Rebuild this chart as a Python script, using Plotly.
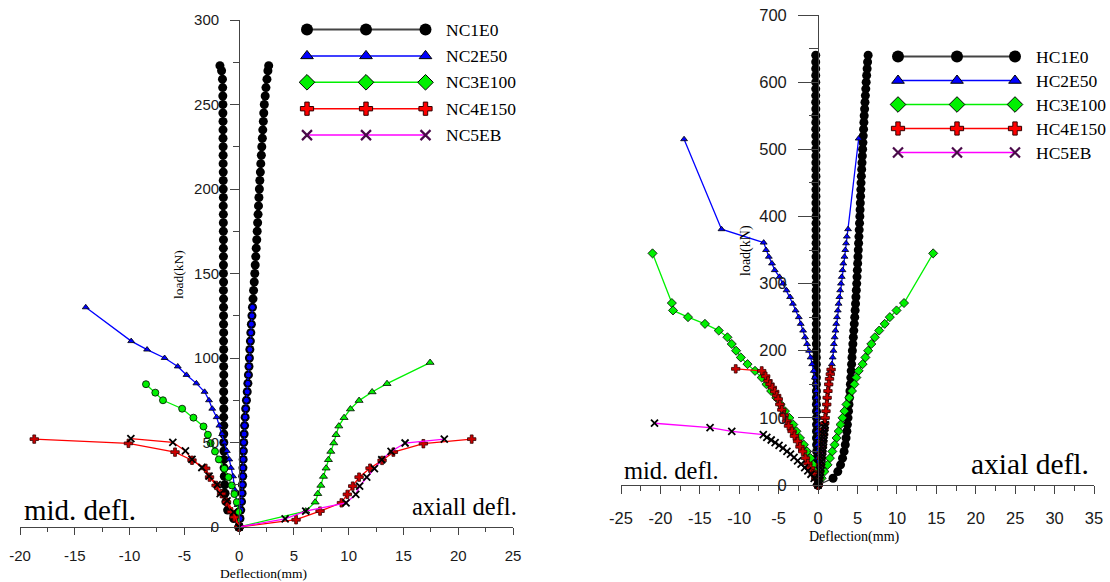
import plotly.graph_objects as go

# ------------------------------------------------------------------
# Left panel: NC specimens  (load in kN vs deflection in mm)
# "MID" = mid-height (lateral) deflection, "AX" = axial deflection
# ------------------------------------------------------------------
NC1E0_LOAD = [0, 5, 10, 15, 20, 25, 30, 35, 40, 45, 50, 55, 60, 65, 70, 75, 80, 85, 90, 95,
              100, 105, 110, 115, 120, 125, 130, 135, 140, 145, 150, 155, 160, 165, 170, 175,
              180, 185, 190, 195, 200, 205, 210, 215, 220, 225, 230, 235, 240, 245, 250, 255,
              260, 265, 270, 273]
NC1E0_MID = [0, -0.5, -1.05, -1.2, -1.28, -1.32, -1.35, -1.37, -1.38, -1.39, -1.4, -1.4, -1.4,
             -1.41, -1.4, -1.4, -1.41, -1.41, -1.4, -1.41, -1.41, -1.41, -1.42, -1.41, -1.42,
             -1.42, -1.42, -1.42, -1.43, -1.42, -1.43, -1.43, -1.43, -1.44, -1.43, -1.44, -1.44,
             -1.44, -1.45, -1.44, -1.45, -1.45, -1.45, -1.46, -1.46, -1.46, -1.47, -1.47, -1.47,
             -1.48, -1.48, -1.49, -1.5, -1.52, -1.6, -1.75]
NC1E0_AX = [0, 0.08, 0.15, 0.22, 0.27, 0.3, 0.33, 0.35, 0.37, 0.39, 0.42, 0.46, 0.5, 0.55, 0.6,
            0.67, 0.74, 0.8, 0.85, 0.9, 0.94, 0.98, 1.03, 1.07, 1.12, 1.17, 1.22, 1.27, 1.32,
            1.38, 1.43, 1.47, 1.52, 1.56, 1.61, 1.65, 1.69, 1.73, 1.77, 1.81, 1.85, 1.89, 1.94,
            1.98, 2.03, 2.07, 2.12, 2.16, 2.21, 2.25, 2.3, 2.38, 2.45, 2.54, 2.63, 2.7]

NC2E50_MID = [-14.0, -9.85, -8.4, -6.8, -5.6, -4.8, -3.9, -3.15, -2.75, -2.45, -2.05, -1.8,
              -1.55, -1.35, -1.12, -0.9, -0.75, -0.55, -0.4, -0.15, -0.05, 0]
NC2E50_MID_LOAD = [130, 110, 105, 100, 95, 90, 85, 80, 75, 70, 65, 60, 55, 50, 45, 40, 35, 30,
                   22, 13, 5, 0]
NC2E50_AX = [0, 0.08, 0.15, 0.22, 0.27, 0.3, 0.33, 0.35, 0.37, 0.39, 0.42, 0.46, 0.5, 0.55,
             0.6, 0.67, 0.74, 0.8, 0.85, 0.9, 0.94, 0.98, 1.03, 1.07, 1.12, 1.17, 1.22]
NC2E50_AX_LOAD = [0, 5, 10, 15, 20, 25, 30, 35, 40, 45, 50, 55, 60, 65, 70, 75, 80, 85, 90, 95,
                  100, 105, 110, 115, 120, 125, 130]

NC3E100_MID = [-8.5, -7.65, -6.95, -5.2, -4.17, -3.25, -2.85, -2.6, -2.2, -1.85, -1.35, -0.97,
               -0.67, -0.43, -0.21, -0.06, 0]
NC3E100_MID_LOAD = [84.5, 79.5, 75, 70, 64.7, 59.5, 54.6, 49.6, 44.7, 40, 34.5, 29.5, 24.6,
                    19.5, 14.7, 9, 0]
NC3E100_AX = [17.43, 13.5, 12.14, 10.95, 10.16, 9.58, 9.1, 8.85, 8.64, 8.37, 8.15, 7.94, 7.7,
              7.46, 7.18, 6.94, 6.08, 0]
NC3E100_AX_LOAD = [97.3, 84.8, 79.9, 74.8, 69.8, 64.7, 59.7, 54.6, 49.7, 44.7, 39.8, 34.8, 29.9,
                   24.6, 19.7, 14.7, 9.4, 0]

NC4E150_MID = [-18.7, -10.1, -5.85, -4.3, -3.05, -2.7, -2.1, -1.6, -1.15, -0.7, -0.45, 0]
NC4E150_MID_LOAD = [52, 49.5, 44.3, 39.5, 34.7, 29.5, 24.6, 19.7, 14.7, 9, 5.8, 0]
NC4E150_AX = [21.23, 16.82, 14.08, 13.05, 11.95, 10.95, 10.37, 9.88, 9.34, 7.39, 5.2, 0]
NC4E150_AX_LOAD = [52, 49.3, 44.3, 39.4, 34.8, 29.5, 24.2, 19.3, 14.3, 9.4, 4.3, 0]

NC5EB_MID = [-9.88, -6.05, -4.9, -4.3, -3.4, -2.74, -2.0, -1.73, -1.1, -0.5, 0]
NC5EB_MID_LOAD = [52.3, 50.1, 45, 40, 35.2, 30.1, 25, 19.8, 15.4, 8.8, 0]
NC5EB_AX = [18.73, 15.15, 13.87, 13.02, 12.35, 11.65, 11.0, 10.65, 9.76, 6.08, 4.2, 0]
NC5EB_AX_LOAD = [52, 49.7, 44.7, 39.8, 34.5, 29.5, 24.2, 19.3, 14.3, 9.4, 4.8, 0]

# ------------------------------------------------------------------
# Right panel: HC specimens
# ------------------------------------------------------------------
HC1E0_LOAD = [0, 10, 20, 30, 40, 50, 60, 70, 80, 90, 100, 110, 120, 130, 140, 150, 160, 170,
              180, 190, 200, 210, 220, 230, 240, 250, 260, 270, 280, 290, 300, 310, 320, 330,
              340, 350, 360, 370, 380, 390, 400, 410, 420, 430, 440, 450, 460, 470, 480, 490,
              500, 510, 520, 530, 540, 550, 560, 570, 580, 590, 600, 610, 620, 630, 640]
HC1E0_MID = [0, -0.08, -0.12, -0.15, -0.17, -0.18, -0.19, -0.2, -0.2, -0.2, -0.2, -0.2, -0.21,
             -0.21, -0.21, -0.21, -0.21, -0.22, -0.22, -0.22, -0.22, -0.22, -0.23, -0.23, -0.23,
             -0.23, -0.23, -0.24, -0.24, -0.24, -0.24, -0.24, -0.25, -0.25, -0.25, -0.25, -0.25,
             -0.26, -0.26, -0.26, -0.26, -0.26, -0.27, -0.27, -0.27, -0.27, -0.27, -0.28, -0.28,
             -0.28, -0.28, -0.28, -0.29, -0.29, -0.29, -0.29, -0.29, -0.3, -0.3, -0.3, -0.3,
             -0.3, -0.3, -0.3, -0.3]
HC1E0_AX = [0, 1.9, 2.5, 2.85, 3.1, 3.3, 3.45, 3.55, 3.65, 3.72, 3.8, 3.86, 3.92, 3.98, 4.04,
            4.1, 4.15, 4.2, 4.25, 4.3, 4.35, 4.41, 4.47, 4.53, 4.59, 4.65, 4.7, 4.75, 4.8, 4.85,
            4.9, 4.94, 4.98, 5.02, 5.06, 5.1, 5.14, 5.18, 5.22, 5.26, 5.3, 5.33, 5.36, 5.39,
            5.42, 5.45, 5.49, 5.53, 5.57, 5.61, 5.65, 5.69, 5.73, 5.77, 5.81, 5.85, 5.9, 5.95,
            6.0, 6.05, 6.1, 6.16, 6.22, 6.28, 6.35]

HC2E50_MID = [-17.0, -12.25, -6.9, -6.6, -6.25, -5.85, -5.5, -4.9, -4.45, -4.0, -3.55, -3.2,
              -2.85, -2.45, -2.2, -1.9, -1.65, -1.4, -1.15, -0.95, -0.75, -0.55, -0.4, -0.3,
              -0.22, -0.18, -0.15, -0.13, -0.12, -0.1, -0.1, -0.08, -0.07, -0.05, -0.04, -0.02, 0]
HC2E50_MID_LOAD = [515, 381, 361, 350, 340, 330, 320, 310, 300, 290, 280, 270, 260, 250, 240,
                   230, 220, 210, 200, 190, 180, 170, 160, 150, 140, 130, 120, 110, 100, 90, 80,
                   70, 60, 50, 40, 20, 0]
HC2E50_AX = [5.15, 3.8, 3.65, 3.55, 3.45, 3.35, 3.2, 3.1, 3.0, 2.9, 2.8, 2.7, 2.6, 2.5, 2.4,
             2.3, 2.2, 2.1, 2.0, 1.95, 1.85, 1.75, 1.6, 1.5, 1.4, 1.3, 1.2, 1.1, 1.0, 0.9, 0.8,
             0.7, 0.6, 0.5, 0.4, 0.3, 0.25, 0.15, 0.1, 0]
HC2E50_AX_LOAD = [516, 381, 370, 360, 350, 340, 330, 320, 310, 300, 290, 280, 270, 260, 250,
                  240, 230, 220, 210, 200, 190, 180, 170, 160, 150, 140, 130, 120, 110, 100, 90,
                  80, 70, 60, 50, 40, 30, 20, 10, 0]

HC3E100_MID = [-21.0, -18.55, -18.4, -16.5, -14.35, -12.6, -11.5, -10.95, -10.4, -9.8, -8.95,
               -8.0, -7.15, -6.55, -5.95, -5.3, -4.75, -4.2, -3.65, -3.15, -2.75, -2.3, -1.8,
               -1.4, -0.95, -0.6, -0.35, -0.15, 0]
HC3E100_MID_LOAD = [345, 271, 260, 250, 240, 230, 220, 210, 200, 190, 180, 170, 160, 150, 140,
                    130, 120, 110, 100, 90, 80, 70, 60, 50, 40, 30, 20, 10, 0]
HC3E100_AX = [14.6, 10.9, 9.95, 9.1, 8.45, 7.75, 7.2, 6.75, 6.35, 6.0, 5.65, 5.15, 4.85, 4.6,
              4.3, 3.95, 3.6, 3.35, 3.1, 2.85, 2.6, 2.35, 2.1, 1.8, 1.5, 1.2, 0.8, 0.45, 0]
HC3E100_AX_LOAD = [345, 271, 260, 250, 240, 230, 220, 210, 200, 190, 180, 170, 160, 150, 140,
                   130, 120, 110, 100, 90, 80, 70, 60, 50, 40, 30, 20, 10, 0]

HC4E150_MID = [-10.45, -7.15, -6.65, -6.35, -6.1, -5.8, -5.5, -5.25, -5.05, -4.85, -4.6, -4.3,
               -4.0, -3.75, -3.3, -3.0, -2.6, -2.3, -1.95, -1.6, -1.3, -0.95, -0.6, -0.3, 0]
HC4E150_MID_LOAD = [173, 170, 162, 155, 150, 145, 139, 133, 128, 120, 112, 104, 95, 88, 80, 73,
                    65, 57, 50, 40, 32, 25, 17, 9, 0]
HC4E150_AX = [1.65, 1.55, 1.45, 1.35, 1.25, 1.15, 1.1, 1.0, 0.9, 0.85, 0.75, 0.7, 0.6, 0.55,
              0.45, 0.4, 0.3, 0.2, 0.1, 0]
HC4E150_AX_LOAD = [172, 165, 158, 150, 140, 130, 120, 110, 100, 92, 83, 75, 65, 57, 48, 40, 30,
                   20, 10, 0]

HC5EB_MID = [-20.75, -13.7, -10.95, -6.95, -6.5, -5.95, -5.45, -4.95, -4.45, -3.95, -3.5, -3.05,
             -2.6, -2.15, -1.7, -1.3, -0.9, -0.5, -0.2, 0]
HC5EB_MID_LOAD = [92, 85.5, 80, 75, 71, 67, 63, 59, 55, 50, 46, 41, 36, 31, 26, 21, 16, 10, 5, 0]
HC5EB_AX = [0, 0.1, 0.2, 0.25, 0.3, 0.35, 0.4, 0.45, 0.5, 0.55, 0.6, 0.62, 0.65, 0.7, 0.72,
            0.75, 0.8, 0.85, 0.9]
HC5EB_AX_LOAD = [0, 5, 10, 15, 20, 25, 30, 35, 40, 45, 50, 55, 60, 65, 70, 75, 80, 85, 90]

# Axis ranges and tick labels
LEFT_X_RANGE, LEFT_Y_RANGE = [-20, 25], [0, 300]
RIGHT_X_RANGE, RIGHT_Y_RANGE = [-25, 35], [0, 700]
LEFT_X_TICKS = [-20, -15, -10, -5, 0, 5, 10, 15, 20, 25]
LEFT_Y_TICKS = [0, 50, 100, 150, 200, 250, 300]
RIGHT_X_TICKS = [-25, -20, -15, -10, -5, 0, 5, 10, 15, 20, 25, 30, 35]
RIGHT_Y_TICKS = [0, 100, 200, 300, 400, 500, 600, 700]

LEFT_NAMES = ["NC1E0", "NC2E50", "NC3E100", "NC4E150", "NC5EB"]
RIGHT_NAMES = ["HC1E0", "HC2E50", "HC3E100", "HC4E150", "HC5EB"]

# ------------------------------------------------------------------
W, H = 1110, 582
SERIF = "Times New Roman, Liberation Serif, serif"
SANS = "Arial, Liberation Sans, sans-serif"
BLACK, BLUE, GREEN, RED, MAGENTA = "#000000", "#0000ff", "#00f000", "#ff0000", "#ff00ff"
AXIS = "#444444"


def fx(px):
    return px / W


def fy(py):
    return 1 - py / H


# plot areas in pixels: (left, right, top, bottom)
LEFT_BOX = (20, 513, 20, 527)
RIGHT_BOX = (621, 1094, 15, 485)


def zero_position(box, xr):
    """Paper position where x = 0 falls, so the load axis crosses there."""
    l, r = box[0], box[1]
    return fx(l + (0 - xr[0]) / (xr[1] - xr[0]) * (r - l))


def marker(symbol, size, fill, edge="#000000", ew=0.8):
    return dict(symbol=symbol, size=size, color=fill, line=dict(color=edge, width=ew))


X_MARK = dict(symbol="x-thin", size=7, color="#000000", line=dict(color="#000000", width=1.8))
PLUS = "cross"

fig = go.Figure()


def add(x, y, line_color, mk, xa, ya, lw=1.3):
    fig.add_trace(go.Scatter(x=x, y=y, mode="lines+markers", xaxis=xa, yaxis=ya,
                             line=dict(color=line_color, width=lw), marker=mk,
                             cliponaxis=False, hoverinfo="skip", showlegend=False))


# left panel
add(NC1E0_MID, NC1E0_LOAD, "#333333", marker("circle", 9, BLACK, BLACK, 0), "x", "y")
add(NC1E0_AX, NC1E0_LOAD, "#333333", marker("circle", 9, BLACK, BLACK, 0), "x", "y")
add(NC2E50_MID, NC2E50_MID_LOAD, BLUE, marker("triangle-up", 6, BLUE), "x", "y")
add(NC2E50_AX, NC2E50_AX_LOAD, BLUE, marker("circle", 6, BLUE, "#000000", 1), "x", "y")
add(NC3E100_MID, NC3E100_MID_LOAD, GREEN, marker("circle", 7, GREEN), "x", "y")
add(NC3E100_AX, NC3E100_AX_LOAD, GREEN, marker("triangle-up", 7, GREEN), "x", "y")
add(NC4E150_MID, NC4E150_MID_LOAD, RED, marker(PLUS, 7, "#cc0000", "#330000", 0.8), "x", "y")
add(NC4E150_AX, NC4E150_AX_LOAD, RED, marker(PLUS, 7, "#cc0000", "#330000", 0.8), "x", "y")
add(NC5EB_MID, NC5EB_MID_LOAD, RED, X_MARK, "x", "y")
add(NC5EB_AX, NC5EB_AX_LOAD, MAGENTA, X_MARK, "x", "y")

# right panel
add(HC1E0_MID, HC1E0_LOAD, "#333333", marker("circle", 9, BLACK, BLACK, 0), "x2", "y2")
add(HC1E0_AX, HC1E0_LOAD, "#333333", marker("circle", 9, BLACK, BLACK, 0), "x2", "y2")
add(HC2E50_MID, HC2E50_MID_LOAD, BLUE, marker("triangle-up", 6, BLUE), "x2", "y2")
add(HC2E50_AX, HC2E50_AX_LOAD, BLUE, marker("triangle-up", 6, BLUE), "x2", "y2")
add(HC3E100_MID, HC3E100_MID_LOAD, GREEN, marker("diamond", 7, GREEN), "x2", "y2")
add(HC3E100_AX, HC3E100_AX_LOAD, GREEN, marker("diamond", 7, GREEN), "x2", "y2")
add(HC4E150_MID, HC4E150_MID_LOAD, RED, marker(PLUS, 7, "#cc0000", "#330000", 0.8), "x2", "y2")
add(HC4E150_AX, HC4E150_AX_LOAD, RED, marker(PLUS, 7, "#cc0000", "#330000", 0.8), "x2", "y2")
add(HC5EB_MID, HC5EB_MID_LOAD, MAGENTA, X_MARK, "x2", "y2")
add(HC5EB_AX, HC5EB_AX_LOAD, MAGENTA, X_MARK, "x2", "y2")

# ------------------------------------------------------------------
# Legends: each entry is a line carrying three markers, drawn on a
# full-page overlay axis measured in pixels.
# ------------------------------------------------------------------
LEGEND_STYLES = [
    dict(line="#444444", lw=2, mk=marker("circle", 12, BLACK, BLACK, 0)),
    dict(line=BLUE, lw=1.5, mk=marker("triangle-up", 11, BLUE, "#000000", 1)),
    dict(line=GREEN, lw=1.5, mk=marker("diamond", 12, GREEN, "#000000", 1)),
    dict(line=RED, lw=1.5, mk=marker("cross", 11, RED, "#330000", 1)),
    dict(line=MAGENTA, lw=1.5, mk=dict(symbol="x-thin", size=10, color="#4a0a4a",
                                       line=dict(color="#4a0a4a", width=2.2))),
]
LEGENDS = [
    dict(names=LEFT_NAMES, x=(307, 366, 425.5), text_x=444, y0=29.5, dy=26.4, fs=17.5),
    dict(names=RIGHT_NAMES, x=(898, 957, 1015), text_x=1034, y0=56.5, dy=24.0, fs=17.5),
]
annotations = []
for lg in LEGENDS:
    for i, (name, st) in enumerate(zip(lg["names"], LEGEND_STYLES)):
        yy = lg["y0"] + i * lg["dy"]
        fig.add_trace(go.Scatter(x=list(lg["x"]), y=[yy] * 3, mode="lines+markers",
                                 xaxis="x3", yaxis="y3", line=dict(color=st["line"], width=st["lw"]),
                                 marker=st["mk"], cliponaxis=False, hoverinfo="skip",
                                 showlegend=False))
        annotations.append(dict(x=lg["text_x"], y=yy, xref="x3", yref="y3", text=name,
                                showarrow=False, xanchor="left", yanchor="middle",
                                font=dict(family=SERIF, size=lg["fs"], color="#000000")))

# Axis titles and region labels
TEXTS = [
    ("Deflection(mm)", 263, 573, "center", 13.5, 0),
    ("Deflection(mm)", 854, 537, "center", 14, 0),
    ("load(kN)", 178, 275, "center", 13.5, -90),
    ("load(kN)", 746, 251, "center", 14, -90),
    ("mid. defl.", 22, 510, "left", 29, 0),
    ("axiall defl.", 519, 506, "right", 24.5, 0),
    ("mid. defl.", 622, 470, "left", 24.5, 0),
    ("axial defl.", 1091, 464, "right", 29.5, 0),
]
for text, x, y, anchor, size, angle in TEXTS:
    annotations.append(dict(x=fx(x), y=fy(y), xref="paper", yref="paper", text=text,
                            showarrow=False, xanchor=anchor, yanchor="middle",
                            textangle=angle, font=dict(family=SERIF, size=size, color="#000000")))


def xaxis_cfg(box, rng, ticks, fs, tl, mtl, standoff, anchor):
    return dict(domain=[fx(box[0]), fx(box[1])], range=rng, anchor=anchor, automargin=False,
                tickmode="array", tickvals=ticks, ticktext=[str(t) for t in ticks],
                ticks="outside", ticklen=tl, tickwidth=1, tickcolor=AXIS,
                minor=dict(dtick=2.5, tick0=0, ticks="outside", ticklen=mtl, tickwidth=1,
                           tickcolor=AXIS),
                showline=True, linecolor=AXIS, linewidth=1, showgrid=False, zeroline=False,
                tickfont=dict(family=SANS, size=fs, color="#1a1a1a"),
                ticklabelstandoff=standoff, fixedrange=True)


def yaxis_cfg(box, rng, xr, ticks, minor_step, fs, tl, mtl, standoff):
    return dict(domain=[fy(box[3]), fy(box[2])], range=rng, anchor="free", automargin=False,
                position=zero_position(box, xr), side="left",
                tickmode="array", tickvals=ticks, ticktext=[str(t) for t in ticks],
                ticks="outside", ticklen=tl, tickwidth=1, tickcolor=AXIS,
                minor=dict(dtick=minor_step, tick0=0, ticks="outside", ticklen=mtl,
                           tickwidth=1, tickcolor=AXIS),
                showline=True, linecolor=AXIS, linewidth=1, showgrid=False, zeroline=False,
                tickfont=dict(family=SANS, size=fs, color="#1a1a1a"),
                ticklabelstandoff=standoff, fixedrange=True)


fig.update_layout(
    width=W, height=H, margin=dict(l=0, r=0, t=0, b=0, autoexpand=False),
    paper_bgcolor="white", plot_bgcolor="rgba(0,0,0,0)", showlegend=False,
    xaxis=xaxis_cfg(LEFT_BOX, LEFT_X_RANGE, LEFT_X_TICKS, 15, 7, 4, 8, "y"),
    yaxis=yaxis_cfg(LEFT_BOX, LEFT_Y_RANGE, LEFT_X_RANGE, LEFT_Y_TICKS, 25, 15, 9, 6, 8),
    xaxis2=xaxis_cfg(RIGHT_BOX, RIGHT_X_RANGE, RIGHT_X_TICKS, 16.5, 8, 5, 10, "y2"),
    yaxis2=yaxis_cfg(RIGHT_BOX, RIGHT_Y_RANGE, RIGHT_X_RANGE, RIGHT_Y_TICKS, 50, 16.5, 20, 9, 8),
    xaxis3=dict(domain=[0, 1], range=[0, W], visible=False, anchor="y3", fixedrange=True,
                automargin=False),
    yaxis3=dict(domain=[0, 1], range=[H, 0], visible=False, anchor="x3", fixedrange=True,
                automargin=False),
    annotations=annotations,
)

fig.write_html("out.html", config={"displayModeBar": False})
